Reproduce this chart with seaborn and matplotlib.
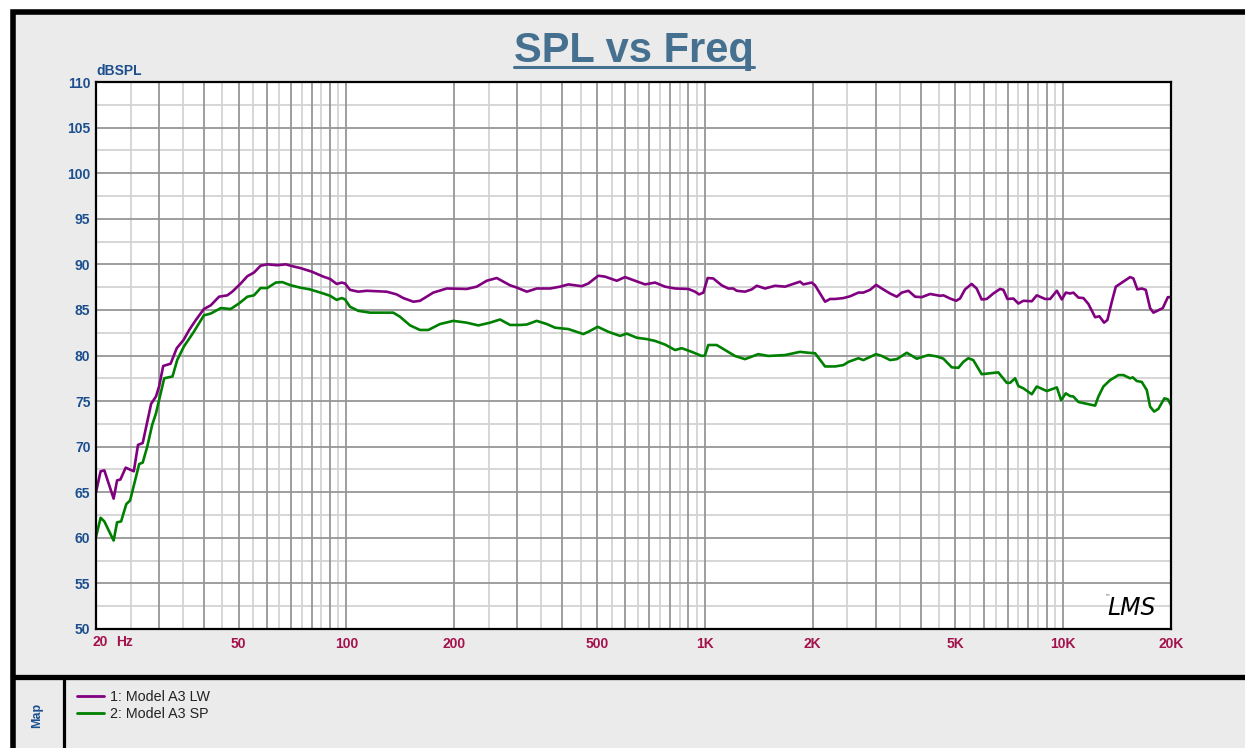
import numpy as np
import pandas as pd
import matplotlib
matplotlib.use("Agg")
import matplotlib.pyplot as plt
import seaborn as sns
from matplotlib.lines import Line2D
from matplotlib.patches import Rectangle

# ---------------- data ----------------
lw_freq = [20.0, 20.6, 21.1, 22.4, 22.9, 23.4, 24.2, 25.5, 26.2, 27.0, 27.8, 28.5, 29.4, 30.0,
           30.8, 32.3, 33.6, 35.1, 36.4, 38.0, 40.0, 41.8, 44.1, 46.5, 48.0, 50.7, 52.9, 55.2,
           57.6, 60.1, 64.1, 67.7, 71.4, 74.2, 80.0, 86.2, 90.0, 93.9, 97.0, 99.1, 102.3, 107.9,
           113.9, 129.5, 138.1, 144.1, 153.7, 160.4, 174.7, 190.5, 216.6, 230.9, 246.3, 262.6,
           286.2, 298.8, 318.6, 339.6, 370.1, 394.5, 416.1, 453.5, 473.1, 504.4, 526.6, 567.9,
           599.0, 638.7, 681.1, 726.4, 774.5, 826.0, 899.7, 939.3, 963.8, 990.7, 1018.6, 1056.0,
           1114.5, 1163.0, 1200.9, 1227.4, 1294.6, 1352.0, 1396.3, 1472.6, 1570.4, 1674.6,
           1844.4, 1883.9, 1988.5, 2031.0, 2166, 2237, 2310, 2437, 2545, 2684, 2770, 2892, 3006,
           3118, 3289, 3434, 3546, 3700, 3863, 4033, 4253, 4536, 4633, 4837, 5026, 5156, 5324,
           5555, 5736, 5925, 6119, 6385, 6668, 6812, 6990, 7264, 7501, 7745, 8176, 8442, 8906,
           9198, 9603, 9915, 10173, 10458, 10682, 11032, 11391, 11764, 12282, 12626, 13013,
           13292, 13673, 14028, 14728, 15377, 15707, 16113, 16575, 17008, 17485, 17860, 18970,
           19600, 20000]
lw_spl = [65.0, 67.3, 67.4, 64.3, 66.3, 66.4, 67.7, 67.3, 70.2, 70.4, 72.7, 74.7, 75.5, 76.6,
          78.85, 79.1, 80.8, 81.7, 82.8, 83.9, 85.1, 85.5, 86.45, 86.6, 87.0, 87.9, 88.7, 89.1,
          89.85, 90.0, 89.9, 90.0, 89.75, 89.6, 89.2, 88.65, 88.4, 87.85, 88.0, 87.9, 87.2, 87.0,
          87.1, 87.0, 86.7, 86.3, 85.9, 86.0, 86.9, 87.35, 87.3, 87.55, 88.2, 88.5,
          87.7, 87.45, 87.0, 87.35, 87.35, 87.55, 87.8, 87.6, 87.9, 88.75, 88.65, 88.2,
          88.6, 88.2, 87.8, 88.0, 87.55, 87.35, 87.3, 87.0, 86.7, 86.9, 88.5, 88.45,
          87.7, 87.35, 87.35, 87.1, 87.0, 87.25, 87.65, 87.35, 87.65, 87.55,
          88.1, 87.8, 88.0, 87.7, 85.9, 86.2, 86.2, 86.3, 86.5, 86.9, 86.9, 87.2, 87.75,
          87.35, 86.8, 86.45, 86.9, 87.1, 86.45, 86.4, 86.75, 86.55, 86.6, 86.25, 86.0, 86.25, 87.25,
          87.85, 87.35, 86.15, 86.2, 86.8, 87.3, 87.2, 86.2, 86.25, 85.7, 86.0, 85.95, 86.6, 86.2,
          86.2, 87.1, 86.15, 86.9, 86.8, 86.9, 86.35, 86.3, 85.65, 84.2, 84.3, 83.6,
          83.9, 85.9, 87.55, 88.1, 88.6, 88.45, 87.25, 87.35, 87.2, 85.2, 84.7, 85.2,
          86.4, 86.4]

sp_freq = [20.0, 20.6, 21.1, 22.4, 22.9, 23.5, 24.3, 24.9, 25.6, 26.4, 27.0, 27.8, 28.7, 29.4,
           30.3, 31.0, 32.7, 33.7, 35.2, 37.5, 40.0, 41.8, 44.6, 47.5, 50.1, 52.9, 55.2, 57.6,
           60.1, 63.5, 66.2, 69.9, 74.2, 79.1, 86.2, 90.0, 93.9, 97.0, 99.1, 102.3, 107.9, 116.4,
           135.1, 141.1, 150.5, 160.4, 169.2, 182.4, 198.7, 216.6, 233.3, 251.5, 268.3, 286.2,
           305.2, 318.6, 339.6, 362.3, 382.0, 416.1, 458.2, 473.1, 502.5, 538.0, 580.1, 605.6,
           645.8, 688.7, 726.4, 774.5, 826.0, 862.4, 919.6, 980.6, 1001, 1022.5, 1079.4, 1138.6,
           1214.0, 1294.6, 1410.5, 1504.2, 1674.6, 1844.4, 1945.6, 2031.0, 2166, 2310, 2437,
           2517, 2684, 2770, 3006, 3118, 3289, 3434, 3662, 3905, 4207, 4440, 4633, 4889, 5101,
           5266, 5435, 5613, 5925, 6250, 6593, 6962, 7111, 7344, 7501, 7745, 8176, 8442, 9003,
           9603, 9872, 10173, 10458, 10682, 11032, 12282, 12545, 12954, 13524, 14266, 14728,
           15377, 15648, 16050, 16575, 17118, 17485, 17942, 18443, 19170, 19600, 20000]
sp_spl = [60.1, 62.2, 61.8, 59.7, 61.7, 61.8, 63.7, 64.1, 66.0, 68.1, 68.25, 70.0, 72.4, 73.65,
          75.85, 77.5, 77.7, 79.5, 81.0, 82.6, 84.4, 84.6, 85.2, 85.1, 85.7, 86.45, 86.6, 87.4,
          87.4, 88.0, 88.05, 87.7, 87.45, 87.25, 86.8, 86.55, 86.1, 86.3, 86.15, 85.35, 84.9, 84.7,
          84.7, 84.25, 83.3, 82.8, 82.8, 83.45, 83.8, 83.6, 83.3, 83.6, 83.95, 83.35,
          83.35, 83.4, 83.8, 83.45, 83.05, 82.9, 82.35, 82.6, 83.15, 82.6, 82.15, 82.4,
          81.95, 81.8, 81.6, 81.2, 80.6, 80.8, 80.4, 79.95, 80.0, 81.15, 81.15, 80.6,
          79.95, 79.6, 80.15, 79.95, 80.05, 80.4, 80.3, 80.25, 78.8, 78.8, 78.95,
          79.3, 79.7, 79.5, 80.15, 79.95, 79.5, 79.6, 80.3, 79.65, 80.05, 79.9, 79.65, 78.7, 78.65,
          79.3, 79.7, 79.5, 77.95, 78.05, 78.15, 77.0, 77.0, 77.5, 76.65, 76.4, 75.75, 76.6, 76.1,
          76.5, 75.1, 75.85, 75.55, 75.5, 74.9, 74.5, 75.5, 76.6, 77.3, 77.85, 77.85,
          77.5, 77.6, 77.2, 77.1, 76.2, 74.4, 73.85, 74.15, 75.3, 75.2, 74.55]

series_names = ["1: Model A3 LW", "2: Model A3 SP"]
series_colors = ["#800080", "#008000"]

x_tick_vals = [50, 100, 200, 500, 1000, 2000, 5000, 10000, 20000]
x_tick_labels = ["50", "100", "200", "500", "1K", "2K", "5K", "10K", "20K"]
y_tick_vals = list(range(50, 111, 5))

df = pd.concat([
    pd.DataFrame({"freq": lw_freq, "spl": lw_spl, "series": series_names[0]}),
    pd.DataFrame({"freq": sp_freq, "spl": sp_spl, "series": series_names[1]}),
], ignore_index=True)

# ---------------- style ----------------
sns.set_style("white")
plt.rcParams["font.family"] = ["Liberation Sans", "DejaVu Sans"]

W, H = 1245, 748
fig = plt.figure(figsize=(W / 100, H / 100), dpi=100)
fig.patch.set_facecolor("white")

def fx(x):
    return x / W

def fy(y):
    return 1 - y / H

# outer gray panel with thick black frame
fig.add_artist(Rectangle((fx(13.3), fy(770)), fx(1260 - 13.3), (770 - 12) / H,
                         facecolor="#ebebeb", edgecolor="black", lw=4.0, zorder=0))
fig.add_artist(Line2D([fx(13), fx(1250)], [fy(677), fy(677)], color="black", lw=3.8))
fig.add_artist(Line2D([fx(64.2), fx(64.2)], [fy(679), fy(760)], color="black", lw=2.3))

ax = fig.add_axes([fx(96), fy(629), (1171 - 96) / W, (629 - 82) / H])
ax.set_facecolor("white")

sns.lineplot(data=df, x="freq", y="spl", hue="series", palette=series_colors,
             estimator=None, sort=False, lw=1.9, legend=False, ax=ax, zorder=3)

ax.set_xscale("log")
ax.set_xlim(20, 20000)
ax.set_ylim(50, 110)

# grid
dark_c, light_c = "#969696", "#d3d3d3"
for dec in [10, 100, 1000]:
    for m in range(2, 11):
        f = m * dec
        if 20 <= f <= 20000:
            ax.axvline(f, color=dark_c, lw=1.3, zorder=1)
        f2 = (m + 0.5) * dec
        if 20 < f2 < 20000 and m < 10:
            ax.axvline(f2, color=light_c, lw=1.3, zorder=0.5)
for v in np.arange(50, 110.1, 2.5):
    if v % 5 == 0:
        ax.axhline(v, color=dark_c, lw=1.3, zorder=1)
    else:
        ax.axhline(v, color=light_c, lw=1.3, zorder=0.5)

for s in ax.spines.values():
    s.set_color("black")
    s.set_linewidth(1.6)
    s.set_zorder(5)

ax.set_xticks(x_tick_vals)
ax.set_xticklabels(x_tick_labels)
ax.minorticks_off()
ax.set_yticks(y_tick_vals)
ax.set_yticklabels([str(v) for v in y_tick_vals])
ax.tick_params(axis="x", length=0, pad=6, labelsize=10, labelcolor="#a3124c")
ax.tick_params(axis="y", length=0, pad=4, labelsize=10, labelcolor="#1c4f8e")
for t in ax.get_xticklabels() + ax.get_yticklabels():
    t.set_fontweight("bold")
ax.set_xlabel("")
ax.set_ylabel("")

# "20  Hz" label
fig.text(fx(92.5), fy(642), "20", color="#a3124c", fontsize=10, fontweight="bold",
         ha="left", va="center")
fig.text(fx(116.5), fy(642), "Hz", color="#a3124c", fontsize=10, fontweight="bold",
         ha="left", va="center")

# dBSPL label
fig.text(fx(96.5), fy(75), "dBSPL", color="#1c4f8e", fontsize=10, fontweight="bold",
         ha="left", va="baseline")

# title
title = fig.text(fx(634), fy(62), "SPL vs Freq", color="#46708f", fontsize=30,
                 fontweight="bold", ha="center", va="baseline")
fig.canvas.draw()
bb = title.get_window_extent(renderer=fig.canvas.get_renderer())
fig.add_artist(Line2D([bb.x0 / W, bb.x1 / W], [fy(66.5), fy(66.5)], color="#46708f", lw=2.2))

# LMS logo
fig.text(fx(1132), fy(608), "LMS", fontsize=17, fontstyle="italic", color="black",
         family="DejaVu Sans", ha="center", va="center", zorder=6)
fig.text(fx(1107), fy(598), "\u2122", fontsize=4, color="#555555", family="DejaVu Sans",
         ha="center", va="center")

# Map label
fig.text(fx(37.5), fy(715), "Map", color="#1c4f8e", fontsize=9, fontweight="bold",
         rotation=90, ha="center", va="center")

# legend
handles = [Line2D([], [], color=c, lw=2.0) for c in series_colors]
fig.legend(handles, series_names, loc="upper left", bbox_to_anchor=(fx(77), fy(690)),
           frameon=False, fontsize=10.3, handlelength=1.9, handletextpad=0.4,
           labelspacing=0.2, borderpad=0, borderaxespad=0, labelcolor="#222222")

fig.savefig("out.png", dpi=100, facecolor=fig.get_facecolor())
